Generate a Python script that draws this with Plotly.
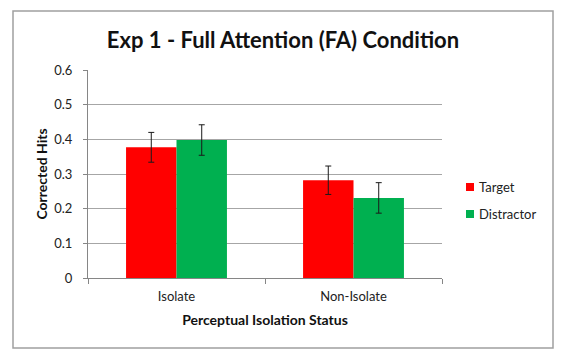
import plotly.graph_objects as go

categories = ["Isolate", "Non-Isolate"]
target_vals = [0.377, 0.282]
target_err = [0.043, 0.041]
distractor_vals = [0.398, 0.231]
distractor_err = [0.044, 0.044]
y_ticks = [0, 0.1, 0.2, 0.3, 0.4, 0.5, 0.6]
y_tick_text = ["0", "0.1", "0.2", "0.3", "0.4", "0.5", "0.6"]
series_names = ["Target", "Distractor"]
series_colors = ["#ff0000", "#00b050"]

W, H = 561, 355
L, R, T, B = 88, 119, 70, 77
pw, ph = W - L - R, H - T - B

font_fam = "Lato, 'Open Sans', sans-serif"

def px_x(x):
    return (x - L) / pw

def px_y(y):
    return (H - B - y) / ph

fig = go.Figure()
for name, vals, errs, col in zip(series_names, [target_vals, distractor_vals],
                                 [target_err, distractor_err], series_colors):
    fig.add_trace(go.Bar(
        x=categories, y=vals, name=name, marker_color=col,
        marker_line_width=0, showlegend=False,
        error_y=dict(type="data", array=errs, color="#1a1a1a", thickness=1, width=3),
    ))

fig.update_layout(
    width=W, height=H,
    margin=dict(l=L, r=R, t=T, b=B, autoexpand=False),
    paper_bgcolor="white", plot_bgcolor="white",
    barmode="group", bargap=0.43, bargroupgap=0,
    font=dict(family=font_fam, size=13, color="#222222"),
    title=dict(text="<b>Exp 1 - Full Attention (FA) Condition</b>",
               x=px_x(283), xref="paper", xanchor="center",
               y=1 - 40 / H, yref="container", yanchor="middle",
               font=dict(size=22, color="#111111", family=font_fam)),
    showlegend=False,
    xaxis=dict(
        showline=True, linecolor="#868686", linewidth=1,
        ticks="outside", tickson="boundaries", ticklen=5, tickcolor="#868686",
        showgrid=False, ticklabelstandoff=6,
        title=dict(text="<b>Perceptual Isolation Status</b>", font=dict(size=14, color="#111111"), standoff=12),
        tickfont=dict(size=13, color="#222222"),
    ),
    yaxis=dict(
        range=[0, 0.6], tickvals=y_ticks, ticktext=y_tick_text,
        showline=True, linecolor="#868686", linewidth=1,
        ticks="outside", ticklen=4, tickcolor="#868686",
        showgrid=True, gridcolor="#a6a6a6", gridwidth=1,
        zeroline=False, ticklabelstandoff=8,
        title=dict(text="<b>Corrected Hits</b>", font=dict(size=14, color="#111111"), standoff=3),
        tickfont=dict(size=13, color="#222222"),
    ),
)

# outer frame
fig.add_shape(type="rect", xref="paper", yref="paper",
              x0=px_x(13), x1=px_x(553), y0=px_y(348), y1=px_y(11),
              line=dict(color="#a0a0a0", width=1.5), fillcolor="rgba(0,0,0,0)", layer="below")

# legend (drawn manually to match the reference spacing)
leg_y = [187, 214]
for name, col, yy in zip(series_names, series_colors, leg_y):
    fig.add_shape(type="rect", xref="paper", yref="paper",
                  x0=px_x(466), x1=px_x(474), y0=px_y(yy + 4), y1=px_y(yy - 4),
                  line=dict(width=0), fillcolor=col)
    fig.add_annotation(xref="paper", yref="paper", x=px_x(477), y=px_y(yy),
                       text=name, showarrow=False, xanchor="left", yanchor="middle",
                       font=dict(size=13, color="#222222"))

fig.write_html("out.html")
